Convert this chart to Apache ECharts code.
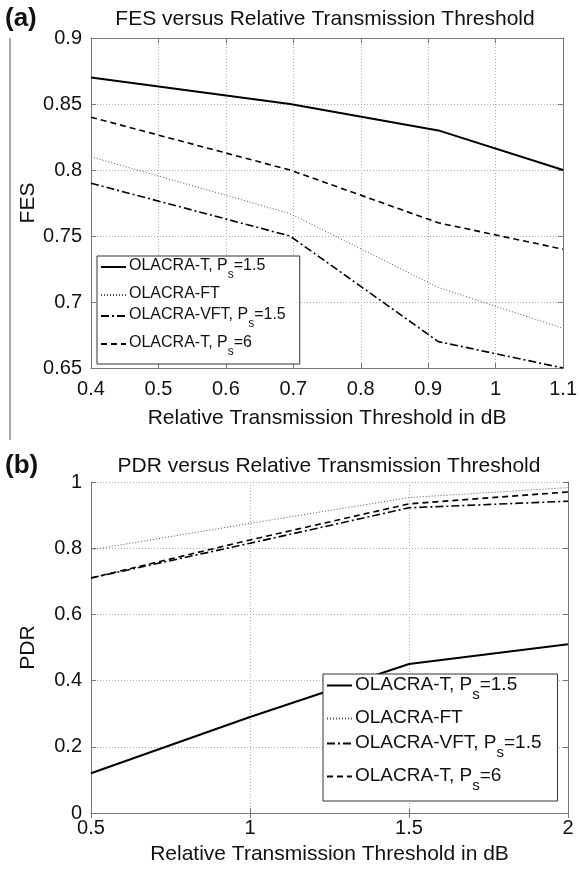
<!DOCTYPE html>
<html>
<head>
<meta charset="utf-8">
<script src="https://cdn.jsdelivr.net/npm/echarts@6/dist/echarts.min.js"></script>
<style>html,body{margin:0;padding:0;background:#fff;}#c{width:580px;height:873px;}</style>
</head>
<body>
<div id="c"></div>
<script>
// ---- data ----
var seriesNames = ['OLACRA-T, Ps=1.5', 'OLACRA-FT', 'OLACRA-VFT, Ps=1.5', 'OLACRA-T, Ps=6'];
var fesX = [0.4, 0.695, 0.915, 1.1];
var fesT15 = [0.87, 0.85, 0.83, 0.80];
var fesFT = [0.81, 0.767, 0.711, 0.68];
var fesVFT = [0.79, 0.75, 0.67, 0.65];
var fesT6 = [0.84, 0.80, 0.76, 0.74];
var pdrX = [0.5, 1, 1.5, 2];
var pdrT15 = [0.12, 0.29, 0.45, 0.51];
var pdrFT = [0.795, 0.875, 0.953, 0.983];
var pdrVFT = [0.71, 0.815, 0.922, 0.942];
var pdrT6 = [0.71, 0.825, 0.934, 0.97];
var titleA = 'FES versus Relative Transmission Threshold';
var titleB = 'PDR versus Relative Transmission Threshold';
var xName = 'Relative Transmission Threshold in dB';

var FONT = 'Liberation Sans, Arial, Helvetica, sans-serif';
function pairs(xs, ys){ return xs.map(function(x,i){ return [x, ys[i]]; }); }
var styles = [
  {color:'#000', width:2, type:'solid'},
  {color:'#555', width:1, type:[1,2]},
  {color:'#000', width:1.6, type:[8,3,2,3]},
  {color:'#000', width:1.6, type:[6,4]}
];
function mk(name, data, idx, st){
  return {name:name, type:'line', xAxisIndex:idx, yAxisIndex:idx, data:data, symbol:'none',
    lineStyle:{color:st.color, width:st.width, type:st.type}, itemStyle:{color:st.color},
    animation:false, z:3};
}
var series = [];
var fesSets = [fesT15, fesFT, fesVFT, fesT6];
var pdrSets = [pdrT15, pdrFT, pdrVFT, pdrT6];
for (var i=0;i<4;i++) series.push(mk(seriesNames[i], pairs(fesX, fesSets[i]), 0, styles[i]));
for (var i=0;i<4;i++) series.push(mk(seriesNames[i], pairs(pdrX, pdrSets[i]), 1, styles[i]));

function fmtLegend(name){
  var m = name.match(/^(.*P)s(=.*)$/);
  if (m) return '{a|' + m[1] + '}{s|s}{a|' + m[2] + '}';
  return '{a|' + name + '}';
}
function legend(left, top, gap, fs, subPad, pad){
  return {
    orient:'vertical', left:left, top:top, itemWidth:25, itemHeight:10, itemGap:gap,
    padding:pad, borderColor:'#333', borderWidth:1, backgroundColor:'#fff',
    data:seriesNames, selectedMode:false, z:10,
    itemStyle:{opacity:0},
    formatter: fmtLegend,
    textStyle:{ fontFamily:FONT, color:'#111', padding:[0,0,0,-2],
      rich:{ a:{fontSize:fs, fontFamily:FONT, color:'#111', lineHeight:fs+2, verticalAlign:'top'},
             s:{fontSize:fs-4, fontFamily:FONT, color:'#111', padding:[subPad,0,0,0], lineHeight:fs-2, verticalAlign:'top'} } }
  };
}
var axLabel = {fontFamily:FONT, fontSize:20, color:'#111'};
var gridLine = {show:true, lineStyle:{color:'#aaa', type:[1,2], width:1}};
var axLine = {show:true, lineStyle:{color:'#777', width:1}};
var tick = {show:true, inside:true, length:5, lineStyle:{color:'#777'}};

function xAx(idx, min, max, itv, margin, gap){
  return [{type:'value', gridIndex:idx, min:min, max:max, interval:itv, position:'bottom',
    axisLine:axLine, axisTick:tick, splitLine:gridLine, axisLabel:Object.assign({margin:margin}, axLabel),
    name:xName, nameLocation:'middle', nameGap:gap, nameMoveOverlap:false,
    nameTextStyle:{fontFamily:FONT, fontSize:21, color:'#111'}},
    {type:'value', gridIndex:idx, min:min, max:max, interval:itv, position:'top',
    axisLine:axLine, axisTick:tick, splitLine:{show:false}, axisLabel:{show:false}}];
}
function yAx(idx, min, max, itv, name){
  return [{type:'value', gridIndex:idx, min:min, max:max, interval:itv, position:'left',
    axisLine:axLine, axisTick:tick, splitLine:gridLine, axisLabel:Object.assign({margin:9}, axLabel),
    name:name, nameLocation:'middle', nameGap:52, nameMoveOverlap:false,
    nameTextStyle:{fontFamily:FONT, fontSize:21, color:'#111'}},
    {type:'value', gridIndex:idx, min:min, max:max, interval:itv, position:'right',
    axisLine:axLine, axisTick:tick, splitLine:{show:false}, axisLabel:{show:false}}];
}
var xa0 = xAx(0, 0.4, 1.1, 0.1, 11, 40), xa1 = xAx(1, 0.5, 2, 0.5, 5, 31);
var ya0 = yAx(0, 0.65, 0.9, 0.05, 'FES'), ya1 = yAx(1, 0, 1, 0.2, 'PDR');

var chart = echarts.init(document.getElementById('c'), null, {renderer:'canvas'});
chart.setOption({
  animation:false,
  backgroundColor:'#fff',
  grid:[{left:91, top:38, width:477, height:330}, {left:91, top:482, width:477, height:331}],
  xAxis:[xa0[0], xa1[0], xa0[1], xa1[1]],
  yAxis:[ya0[0], ya1[0], ya0[1], ya1[1]],
  legend:[legend(97, 256, 5, 16, 11, [2,14,6,3]), legend(323, 674, 6, 19, 12, [1,16,8,3])],
  series:series,
  graphic:[
    {type:'text', left:5, top:6, style:{text:'(a)', font:'bold 26px '+FONT, fill:'#111'}},
    {type:'text', left:5, top:453, style:{text:'(b)', font:'bold 26px '+FONT, fill:'#111'}},
    {type:'text', x:325, y:19, style:{text:titleA, font:'21px '+FONT, fill:'#111', align:'center', verticalAlign:'middle'}},
    {type:'text', x:329, y:466, style:{text:titleB, font:'21px '+FONT, fill:'#111', align:'center', verticalAlign:'middle'}},
    {type:'line', shape:{x1:10, y1:38, x2:10, y2:440}, style:{stroke:'#555', lineWidth:1}}
  ]
});
</script>
</body>
</html>
